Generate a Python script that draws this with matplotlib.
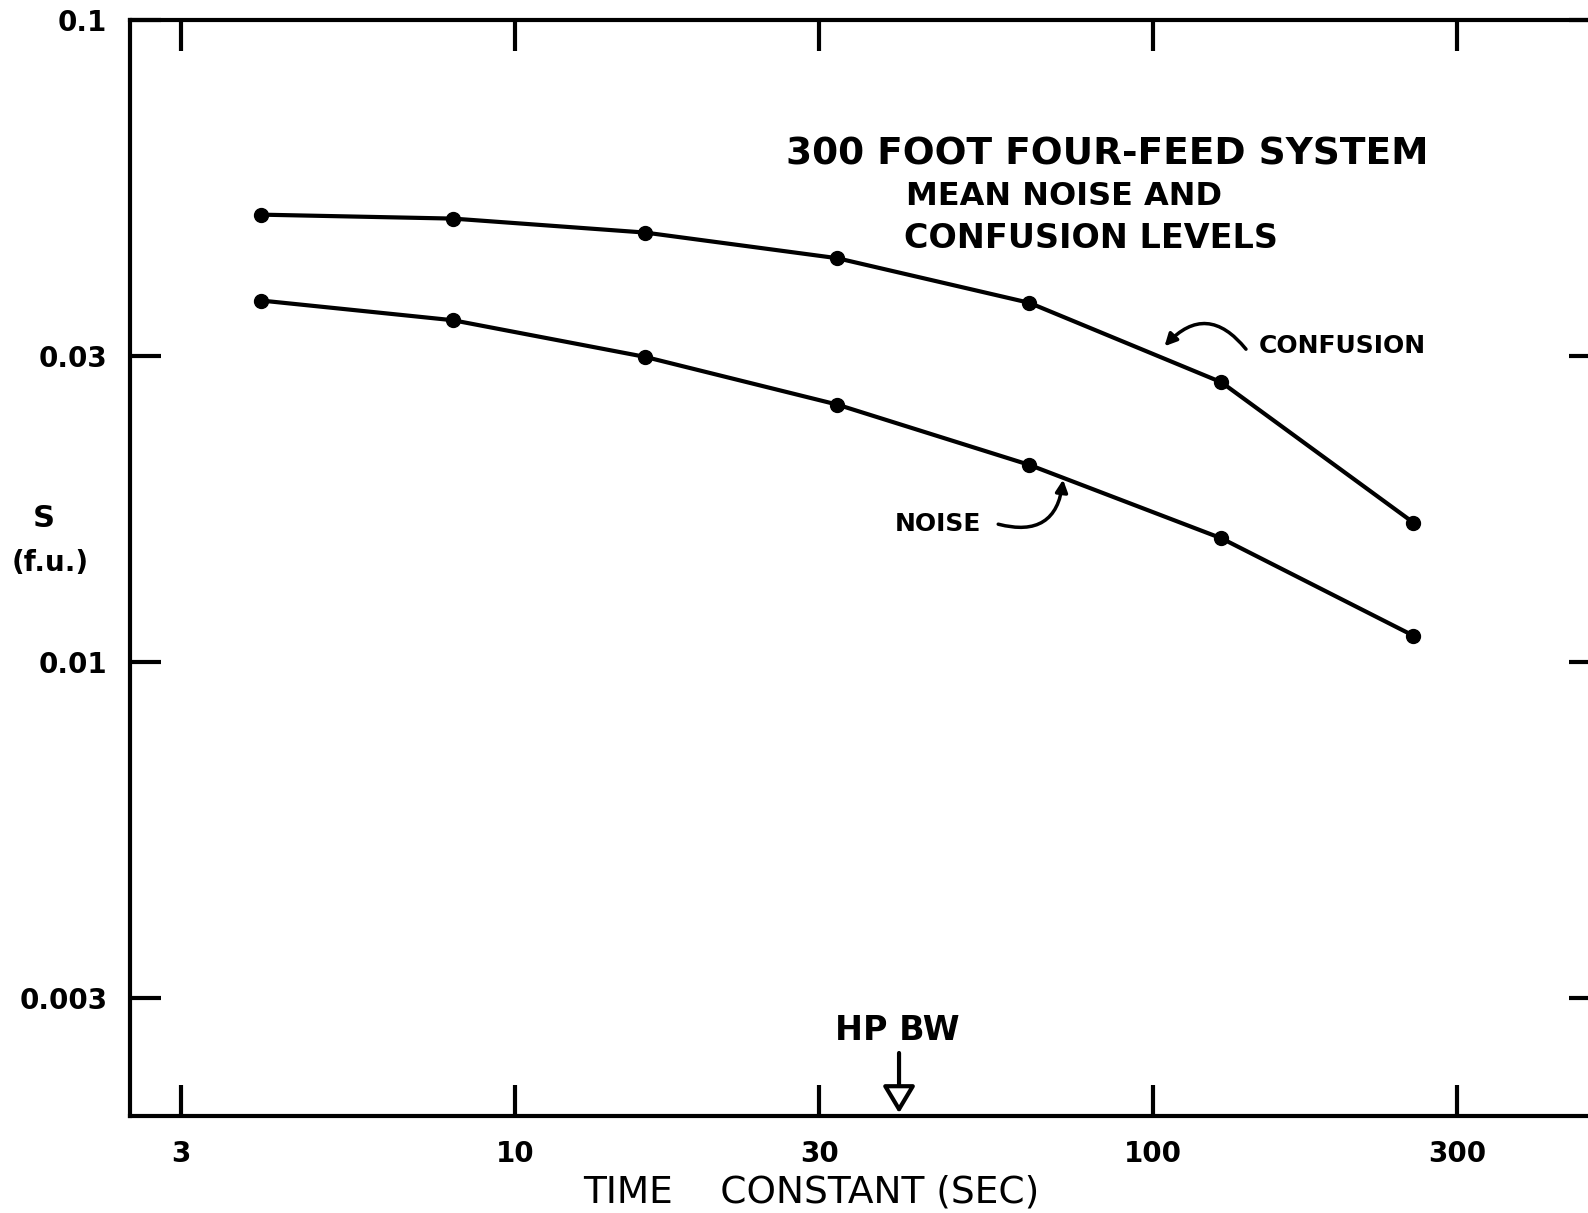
import numpy as np
import matplotlib
matplotlib.use("Agg")
import matplotlib.pyplot as plt

# time constant (sec) and mean levels S (f.u.)
time_const = [4, 8, 16, 32, 64, 128, 256]
confusion = [0.0498, 0.0491, 0.0467, 0.0426, 0.0363, 0.0273, 0.0165]
noise = [0.0366, 0.0341, 0.0299, 0.0252, 0.0203, 0.0156, 0.0110]
hpbw = 40

xticks = [3, 10, 30, 100, 300]
xtick_labels = ["3", "10", "30", "100", "300"]
yticks = [0.003, 0.01, 0.03, 0.1]
ytick_labels = ["0.003", "0.01", "0.03", "0.1"]

W, H = 1568.0, 1198.0  # coords


def fp(px, py):
    return (px / W, 1 - py / H)


plt.rcParams['font.family'] = ['DejaVu Sans']
fig = plt.figure(figsize=(15.88, 12.13), dpi=100)
ax = fig.add_axes([0.0816, 0.080, 0.926, 0.9033])

ax.plot(time_const, confusion, color='black', lw=3, marker='o', ms=10)
ax.plot(time_const, noise, color='black', lw=3, marker='o', ms=10)

ax.set_xscale('log')
ax.set_yscale('log')
ax.set_xlim(2.49, 502)
ax.set_ylim(0.001965, 0.1)

ax.set_xticks(xticks)
ax.set_xticklabels(xtick_labels)
ax.set_yticks(yticks)
ax.set_yticklabels(ytick_labels)
ax.minorticks_off()
ax.tick_params(which='major', direction='in', top=True, right=True,
               length=22, width=3, labelsize=20)
ax.tick_params(axis='x', pad=17)
ax.tick_params(axis='y', pad=16)
for lab in ax.get_xticklabels() + ax.get_yticklabels():
    lab.set_fontweight('bold')
for s in ax.spines.values():
    s.set_linewidth(3)

# titles
fig.text(*fp(1093, 153), "300 FOOT FOUR-FEED SYSTEM", ha='center', va='center',
         fontsize=27, fontweight='bold')
fig.text(*fp(1051, 194), "MEAN NOISE AND", ha='center', va='center',
         fontsize=23, fontweight='bold')
fig.text(*fp(1077, 236), "CONFUSION LEVELS", ha='center', va='center',
         fontsize=24, fontweight='bold')

# axis labels
fig.text(*fp(801, 1178), "TIME    CONSTANT (SEC)", ha='center', va='center',
         fontsize=27)
fig.text(*fp(43, 512), "S", ha='center', va='center', fontsize=22, fontweight='bold')
fig.text(*fp(50, 556), "(f.u.)", ha='center', va='center', fontsize=20, fontweight='bold')

# curve labels
fig.text(*fp(1243, 342), "CONFUSION", ha='left', va='center', fontsize=18,
         fontweight='bold')
fig.text(*fp(883, 518), "NOISE", ha='left', va='center', fontsize=18,
         fontweight='bold')
ax.annotate('', xy=fp(1148, 344), xycoords='figure fraction',
            xytext=fp(1232, 347), textcoords='figure fraction',
            arrowprops=dict(arrowstyle='-|>', color='black', lw=2.5,
                            connectionstyle='arc3,rad=0.6', mutation_scale=18))
ax.annotate('', xy=fp(1050, 471), xycoords='figure fraction',
            xytext=fp(983, 517), textcoords='figure fraction',
            arrowprops=dict(arrowstyle='-|>', color='black', lw=2.5,
                            connectionstyle='arc3,rad=0.6', mutation_scale=18))

# half power beam width marker
fig.text(*fp(886, 1018), "HP BW", ha='center', va='center', fontsize=24,
         fontweight='bold')
ax.annotate('', xy=(hpbw, 0.0), xycoords=('data', 'axes fraction'),
            xytext=(hpbw, 0.06), textcoords=('data', 'axes fraction'),
            arrowprops=dict(arrowstyle='-|>,head_length=0.55,head_width=0.33',
                            ec='black', fc='white', lw=3, mutation_scale=30))

fig.savefig("out.png", dpi=100)
